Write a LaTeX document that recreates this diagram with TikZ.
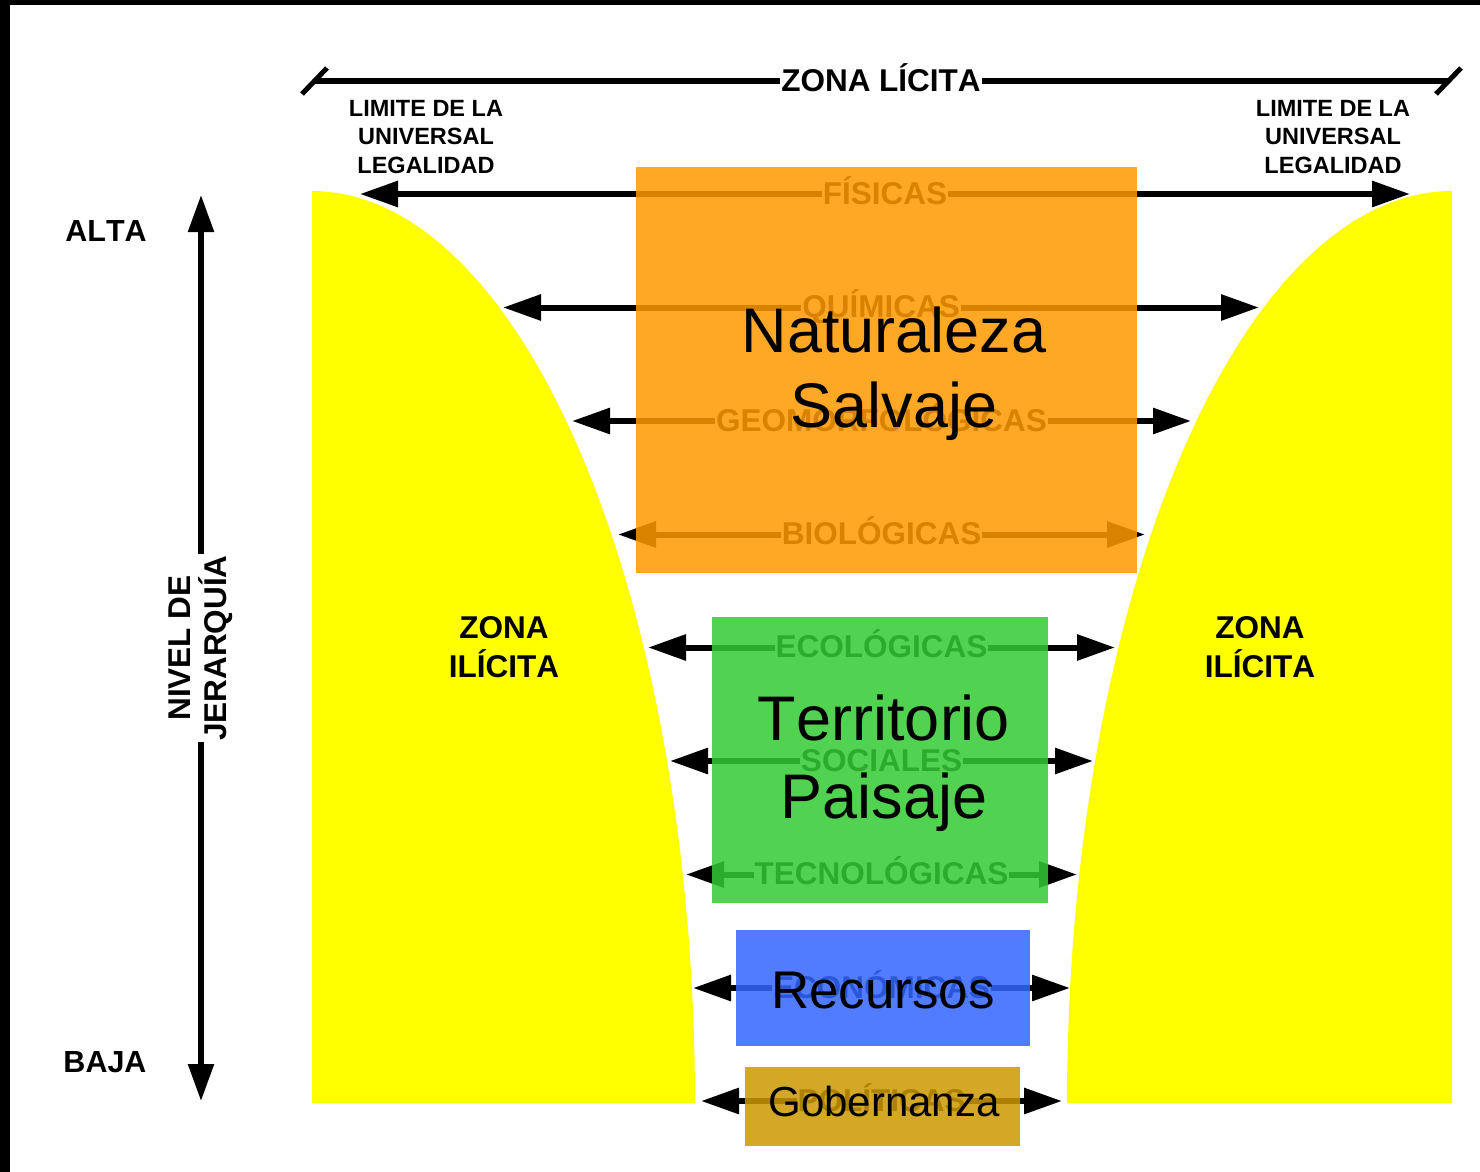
\documentclass[tikz,border=0pt]{standalone}
\usepackage{fontspec}
\setmainfont{Liberation Sans}[Kerning=Off]
\usetikzlibrary{arrows.meta}
\definecolor{orangebox}{HTML}{FF9900}
\definecolor{greenbox}{HTML}{33CC33}
\definecolor{bluebox}{HTML}{3366FF}
\definecolor{goldbox}{HTML}{CC9900}
\definecolor{zoneyellow}{HTML}{FFFF00}
\newcommand\fsz[2]{\fontsize{#1}{#2}\selectfont}
\tikzset{
  harrow/.style={line width=6pt, {Triangle[length=38pt,width=25pt]}-{Triangle[length=38pt,width=25pt]}},
  varrow/.style={line width=5.5pt, {Triangle[length=37pt,width=25pt]}-{Triangle[length=37pt,width=25pt]}},
  lab/.style={fill=white, inner sep=1pt, anchor=base, yshift=-10pt, font=\bfseries\fsz{31.5}{37}},
  boxfill/.style={fill opacity=0.85},
  bigtext/.style={align=center, text=black},
  sidetext/.style={align=center, font=\bfseries\fsz{31.5}{38.5}},
  limtext/.style={align=center, font=\bfseries\fsz{23.5}{28.5}}
}
\begin{document}
\begin{tikzpicture}[x=1pt,y=-1pt]
\useasboundingbox (0,0) rectangle (1480,1172);
\fill[white] (0,0) rectangle (1480,1172);
\fill[black] (0,0) rectangle (1480,5);
\fill[black] (0,0) rectangle (10,1172);

% yellow illicit zones
\fill[zoneyellow] (312,1103) -- plot[domain=90:0, samples=80] ({312+383*cos(\x)},{1103-912*sin(\x)}) -- cycle;
\fill[zoneyellow] (1452,1103) -- plot[domain=90:0, samples=80] ({1452-385*cos(\x)},{1103-912*sin(\x)}) -- cycle;

% zone labels
\node[sidetext] (zil) at (504,647) {ZONA\\ILÍCITA};
\node[sidetext] (zir) at (1260,647) {ZONA\\ILÍCITA};
\node[limtext] (liml) at (426,137) {LIMITE DE LA\\UNIVERSAL\\LEGALIDAD};
\node[limtext] (limr) at (1333,137) {LIMITE DE LA\\UNIVERSAL\\LEGALIDAD};
\node[font=\bfseries\fsz{30.5}{36}] (alta) at (106,231) {ALTA};
\node[font=\bfseries\fsz{30.5}{36}] (baja) at (105,1062) {BAJA};

% ZONA LICITA bar
\coordinate (zl) at (314,81);
\coordinate (zr) at (1448,81);
\draw[line width=6pt] (zl) -- node[fill=white, inner sep=1pt, anchor=base, yshift=-10.5pt, font=\bfseries\fsz{31.5}{37}] (zlt) {ZONA LÍCITA} (zr);
\draw[line width=5pt] ([shift={(-12,13)}]zl) -- ([shift={(13,-13)}]zl);
\draw[line width=5pt] ([shift={(-12,13)}]zr) -- ([shift={(13,-13)}]zr);

% hierarchy arrow
\coordinate (vt) at (201,195);
\coordinate (vb) at (201,1101);
\draw[varrow] (vt) -- node[fill=white, inner sep=1pt, rotate=90, align=center, font=\bfseries\fsz{31.5}{36.5}] (niv) {NIVEL DE\\JERARQUÍA} (vb);

% horizontal arrows
\foreach \yy/\lx/\rx/\txt/\nm in {
  194/360/1410/FÍSICAS/a,
  307.5/503/1259/QUÍMICAS/b,
  421/572/1191/GEOMORFOLÓGICAS/c,
  534.5/618/1145/BIOLÓGICAS/d,
  647.5/648/1115/ECOLÓGICAS/e,
  761/670/1093/SOCIALES/f,
  874.5/686/1077/TECNOLÓGICAS/g,
  988/693/1070/ECONÓMICAS/h,
  1101/701/1062/POLÍTICAS/i}{
  \coordinate (L\nm) at (\lx,\yy);
  \coordinate (R\nm) at (\rx,\yy);
  \draw[harrow] (L\nm) -- node[lab] (T\nm) {\txt} (R\nm);
}

% boxes
\fill[boxfill, orangebox] (636,167) rectangle (1137,573);
\fill[boxfill, greenbox] (712,617) rectangle (1048,903);
\fill[boxfill, bluebox] (736,930) rectangle (1030,1046);
\fill[boxfill, goldbox] (745,1067) rectangle (1020,1146);

% big texts
\node[bigtext, font=\fsz{63}{75}] (nat) at (894,374) {Naturaleza\\Salvaje};
\node[bigtext, font=\fsz{63}{78}] (ter) at (884,763) {Territorio\\Paisaje};
\node[bigtext, anchor=base, font=\fsz{53}{60}] (rec) at (883,1008) {Recursos};
\node[bigtext, anchor=base, font=\fsz{42}{50}] (gob) at (884,1116) {Gobernanza};
\end{tikzpicture}
\end{document}
